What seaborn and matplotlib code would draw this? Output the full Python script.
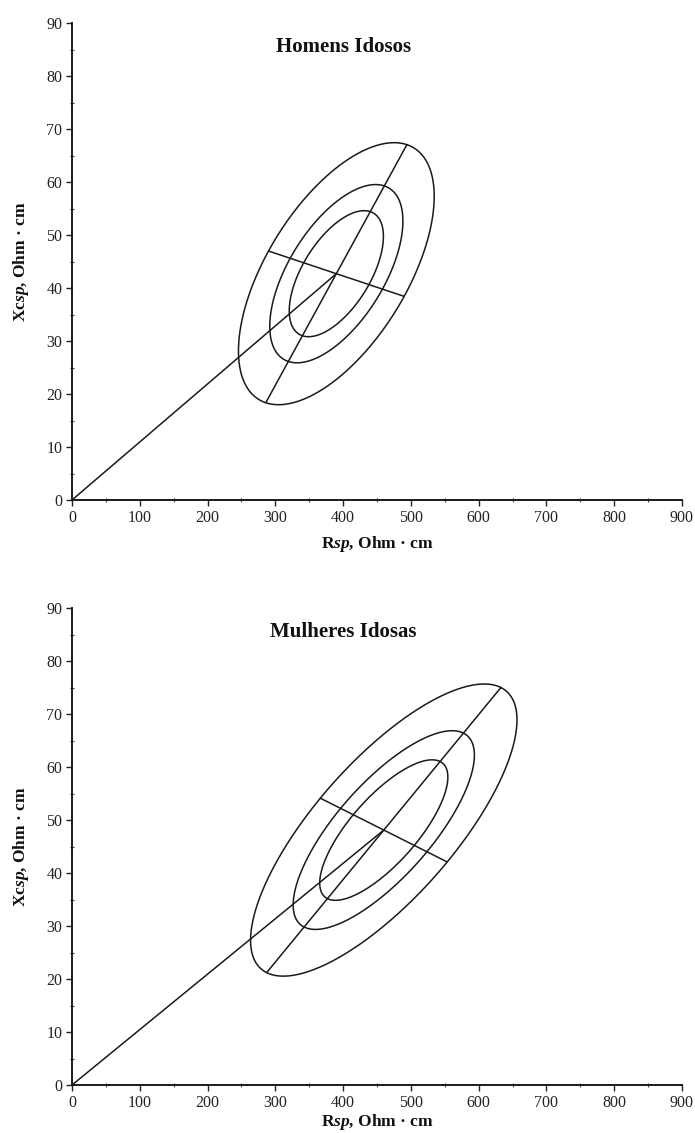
import numpy as np
import pandas as pd
import matplotlib
matplotlib.use("Agg")
import matplotlib.pyplot as plt
import seaborn as sns
from matplotlib.ticker import MultipleLocator

# Group statistics for specific bioimpedance vector analysis (Rsp, Xcsp)
groups = ["Homens Idosos", "Mulheres Idosas"]
mean_rsp = [390.0, 460.0]      # Ohm·cm
mean_xcsp = [42.7, 48.1]       # Ohm·cm
sd_rsp = [59.0, 80.3]
sd_xcsp = [10.1, 11.26]
corr_r_xc = [0.59, 0.754]
coverage = [0.50, 0.75, 0.95]  # tolerance ellipses

x_ticks = list(range(0, 901, 100))
y_ticks = list(range(0, 91, 10))
x_label = r"R$\mathit{sp}$, Ohm · cm"
y_label = r"Xc$\mathit{sp}$, Ohm · cm"

# Axes are computed in a space where Xc is scaled to the range of R
XC_SCALE = 10.0

sns.set_theme(style="ticks")
plt.rcParams["font.family"] = ["Liberation Serif", "DejaVu Serif"]
plt.rcParams["mathtext.fontset"] = "custom"
plt.rcParams["mathtext.rm"] = "Liberation Serif:bold"
plt.rcParams["mathtext.it"] = "Liberation Serif:italic:bold"
plt.rcParams["mathtext.bf"] = "Liberation Serif:bold"

LINE = "#1a1a1a"

fig = plt.figure(figsize=(6.95, 11.33), dpi=100)
ax_h = 477 / 1133
positions = [
    [72 / 695, 1 - 500 / 1133, 610 / 695, ax_h],
    [72 / 695, 1 - 1085 / 1133, 610 / 695, ax_h],
]
xlabel_pads = [6, 1]


def ellipse_geometry(i):
    c = np.array([mean_rsp[i], mean_xcsp[i] * XC_SCALE])
    sx, sy = sd_rsp[i], sd_xcsp[i] * XC_SCALE
    cov = np.array([[sx * sx, corr_r_xc[i] * sx * sy],
                    [corr_r_xc[i] * sx * sy, sy * sy]])
    vals, vecs = np.linalg.eigh(cov)
    order = np.argsort(vals)[::-1]
    vals, vecs = vals[order], vecs[:, order]
    if vecs[1, 0] < 0:
        vecs[:, 0] *= -1
    if vecs[0, 1] < 0:
        vecs[:, 1] *= -1
    return c, vals, vecs


for i, name in enumerate(groups):
    ax = fig.add_axes(positions[i])
    c, vals, vecs = ellipse_geometry(i)
    t = np.linspace(0, 2 * np.pi, 400)
    frames = []
    for p in coverage:
        k = np.sqrt(-2 * np.log(1 - p))
        pts = (c[:, None]
               + k * np.sqrt(vals[0]) * vecs[:, [0]] * np.cos(t)
               + k * np.sqrt(vals[1]) * vecs[:, [1]] * np.sin(t))
        frames.append(pd.DataFrame({"rsp": pts[0], "xcsp": pts[1] / XC_SCALE,
                                    "nivel": f"{int(p * 100)}%"}))
    ell = pd.concat(frames, ignore_index=True)
    sns.lineplot(data=ell, x="rsp", y="xcsp", units="nivel", estimator=None,
                 sort=False, color=LINE, lw=1.1, ax=ax, legend=False)

    k95 = np.sqrt(-2 * np.log(1 - max(coverage)))
    segs = []
    for j in range(2):
        half = k95 * np.sqrt(vals[j]) * vecs[:, j]
        a, b = c - half, c + half
        segs.append(pd.DataFrame({"rsp": [a[0], b[0]],
                                  "xcsp": [a[1] / XC_SCALE, b[1] / XC_SCALE],
                                  "seg": f"eixo{j}"}))
    segs.append(pd.DataFrame({"rsp": [0.0, c[0]], "xcsp": [0.0, c[1] / XC_SCALE],
                              "seg": "origem"}))
    seg_df = pd.concat(segs, ignore_index=True)
    sns.lineplot(data=seg_df, x="rsp", y="xcsp", units="seg", estimator=None,
                 sort=False, color=LINE, lw=1.1, ax=ax, legend=False)

    ax.set_xlim(0, 900)
    ax.set_ylim(0, 90)
    ax.set_xticks(x_ticks)
    ax.set_yticks(y_ticks)
    ax.xaxis.set_minor_locator(MultipleLocator(50))
    ax.yaxis.set_minor_locator(MultipleLocator(5))
    ax.tick_params(which="major", direction="out", length=4, width=1.0,
                   color="#222222", labelsize=11.5, labelcolor="#222222", pad=3)
    ax.tick_params(which="minor", direction="inout", length=3, width=0.8,
                   color="#444444")
    for s in ["top", "right"]:
        ax.spines[s].set_visible(False)
    for s in ["left", "bottom"]:
        ax.spines[s].set_color("#1a1a1a")
        ax.spines[s].set_linewidth(1.4)
    ax.set_xlabel(x_label, fontsize=12.5, fontweight="bold", color="#111111",
                  labelpad=xlabel_pads[i])
    ax.set_ylabel(y_label, fontsize=12.5, fontweight="bold", color="#111111",
                  labelpad=11)
    ax.text(400, 85.5, name, ha="center", va="center", fontsize=15,
            fontweight="bold", color="#111111")

fig.savefig("out.png", dpi=100)
